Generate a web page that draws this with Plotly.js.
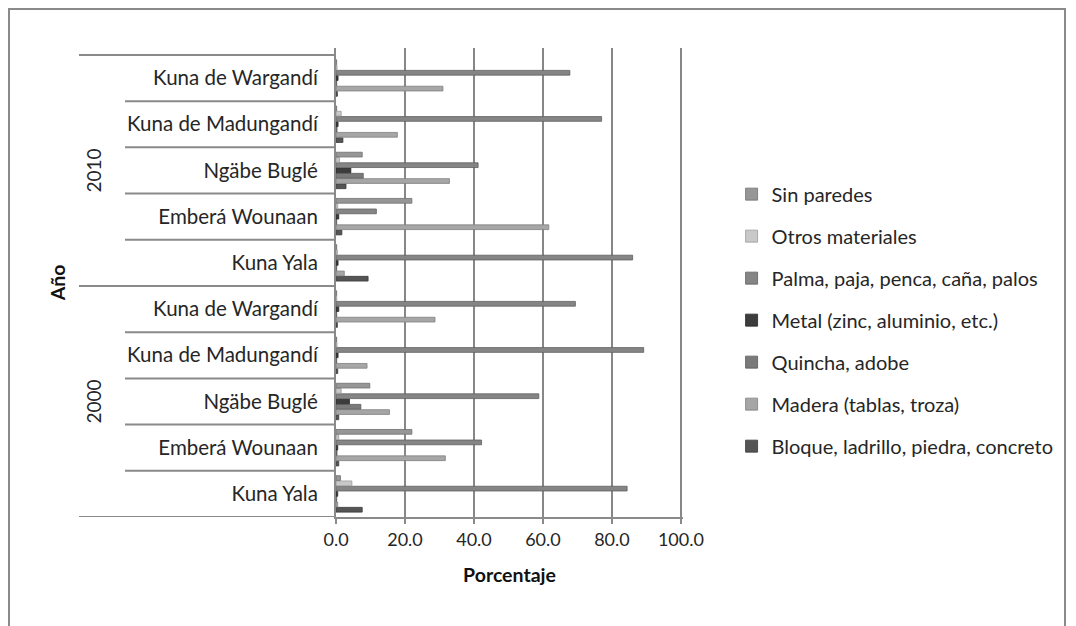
<!DOCTYPE html>
<html>
<head>
<meta charset="utf-8">
<script src="https://cdn.plot.ly/plotly-3.0.1.min.js"></script>
<style>
  html, body { margin: 0; padding: 0; background: #fff; }
  #frame { position: absolute; left: 8px; top: 8px; width: 1058px; height: 640px; border: 2px solid #8a8a8a; box-sizing: border-box; }
  #chart { position: absolute; left: 0; top: 0; width: 1076px; height: 626px; }
</style>
</head>
<body>
<div id="frame"></div>
<div id="chart"></div>
<script>
// Categories, bottom to top
const years = ["2000","2000","2000","2000","2000","2010","2010","2010","2010","2010"];
const comarcas = ["Kuna Yala","Emberá Wounaan","Ngäbe Buglé","Kuna de Madungandí","Kuna de Wargandí",
                  "Kuna Yala","Emberá Wounaan","Ngäbe Buglé","Kuna de Madungandí","Kuna de Wargandí"];

// Series values (%), same order as categories
const bloque     = [7.6, 0.8, 0.8, 0.5, 0.4, 9.3, 1.7, 2.9, 2.0, 0.4];
const madera     = [0.5, 31.7, 15.5, 9.0, 28.7, 2.4, 61.7, 32.9, 17.8, 31.0];
const quincha    = [0.2, 0.3, 7.2, 0.2, 0.2, 0.2, 0.2, 7.9, 0.3, 0.2];
const metal      = [0.5, 0.5, 3.9, 0.6, 0.8, 0.6, 0.8, 4.3, 0.6, 0.6];
const palma      = [84.4, 42.2, 58.8, 89.2, 69.4, 86.0, 11.7, 41.2, 77.0, 67.8];
const otros      = [4.6, 0.8, 1.5, 0.3, 0.2, 0.4, 0.5, 1.0, 1.5, 0.3];
const sinParedes = [1.3, 22.0, 9.8, 0.2, 0.2, 0.2, 22.0, 7.6, 0.2, 0.2];

const seriesNames = ["Bloque, ladrillo, piedra, concreto","Madera (tablas, troza)","Quincha, adobe",
  "Metal (zinc, aluminio, etc.)","Palma, paja, penca, caña, palos","Otros materiales","Sin paredes"];
const seriesValues = [bloque, madera, quincha, metal, palma, otros, sinParedes];
const seriesColors = ["#555555","#a6a6a6","#7a7a7a","#3c3c3c","#858585","#c8c8c8","#969696"];
const lineColors   = ["#3a3a3a","#808080","#5a5a5a","#262626","#606060","#9a9a9a","#707070"];

const xTicks = [0, 20, 40, 60, 80, 100];
const yearLabels = ["2000", "2010"];

const keys = years.map((y, i) => y + " " + comarcas[i]);

const FONT = "Lato, 'Open Sans', sans-serif";
const TXT = "#262626";

const nSeries = seriesNames.length;
const traces = seriesNames.map((name, k) => ({
  type: "bar",
  orientation: "h",
  name: name,
  y: keys,
  x: seriesValues[k],
  legendgroup: "g" + k,
  legendrank: 100 + (nSeries - k) * 10,
  marker: { color: seriesColors[k], line: { color: lineColors[k], width: 0.8 } },
  hoverinfo: "x+name"
}));

// separator lines on the category axis (numeric positions on a category axis)
const shapes = [];
const nCat = keys.length;
for (let i = 0; i <= nCat; i++) {
  const pos = i - 0.5;
  const isYearEdge = (i === 0 || i === nCat || years[i] !== years[i - 1]);
  shapes.push({
    type: "line", xref: "paper", yref: "y",
    x0: isYearEdge ? (79 - 336) / 347 : (125 - 336) / 347, x1: 0,
    y0: pos, y1: pos,
    line: { color: "#8a8a8a", width: 2 }
  });
}

// year labels centred on the middle category of each year block
const annotations = yearLabels.map(yr => {
  const idx = years.map((y, i) => y === yr ? i : -1).filter(i => i >= 0);
  const mid = idx[Math.floor(idx.length / 2)];
  return {
    text: yr, xref: "paper", yref: "y", x: (93 - 336) / 347, y: keys[mid],
    showarrow: false, textangle: -90, font: { family: FONT, size: 19, color: TXT },
    xanchor: "center", yanchor: "middle"
  };
});

const layout = {
  width: 1076, height: 626,
  margin: { l: 336, r: 393, t: 48, b: 109, pad: 0 },
  paper_bgcolor: "rgba(0,0,0,0)",
  plot_bgcolor: "#ffffff",
  barmode: "group",
  bargap: 0.2,
  bargroupgap: 0.1,
  font: { family: FONT, color: TXT, size: 18 },
  xaxis: {
    range: [0, 100.6],
    tickvals: xTicks,
    tickformat: ".1f",
    showgrid: true, gridcolor: "#878787", gridwidth: 2,
    zeroline: false,
    showline: true, linecolor: "#8a8a8a", linewidth: 2,
    ticks: "outside", ticklen: 5, tickcolor: "#8a8a8a", tickwidth: 2,
    tickfont: { family: FONT, size: 18, color: TXT },
    title: { text: "<b>Porcentaje</b>", font: { family: FONT, size: 19.5, color: "#111" }, standoff: 20 }
  },
  yaxis: {
    type: "category",
    categoryorder: "array", categoryarray: keys,
    tickvals: keys, ticktext: comarcas,
    showgrid: false, zeroline: false,
    showline: true, linecolor: "#8a8a8a", linewidth: 2,
    ticks: "", ticklabelstandoff: 12,
    tickfont: { family: FONT, size: 20.5, color: TXT },
    range: [-0.5, nCat - 0.35],
    title: { text: "<b>Año</b>", font: { family: FONT, size: 19.5, color: "#111" }, standoff: 56 }
  },
  legend: {
    x: 1.14, xanchor: "left", y: 0.73, yanchor: "top",
    traceorder: "grouped", tracegroupgap: 13,
    font: { family: FONT, size: 20, color: TXT },
    bgcolor: "rgba(0,0,0,0)"
  },
  shapes: shapes,
  annotations: annotations,
  showlegend: true
};

Plotly.newPlot("chart", traces, layout, { displayModeBar: false, staticPlot: true });
</script>
</body>
</html>
